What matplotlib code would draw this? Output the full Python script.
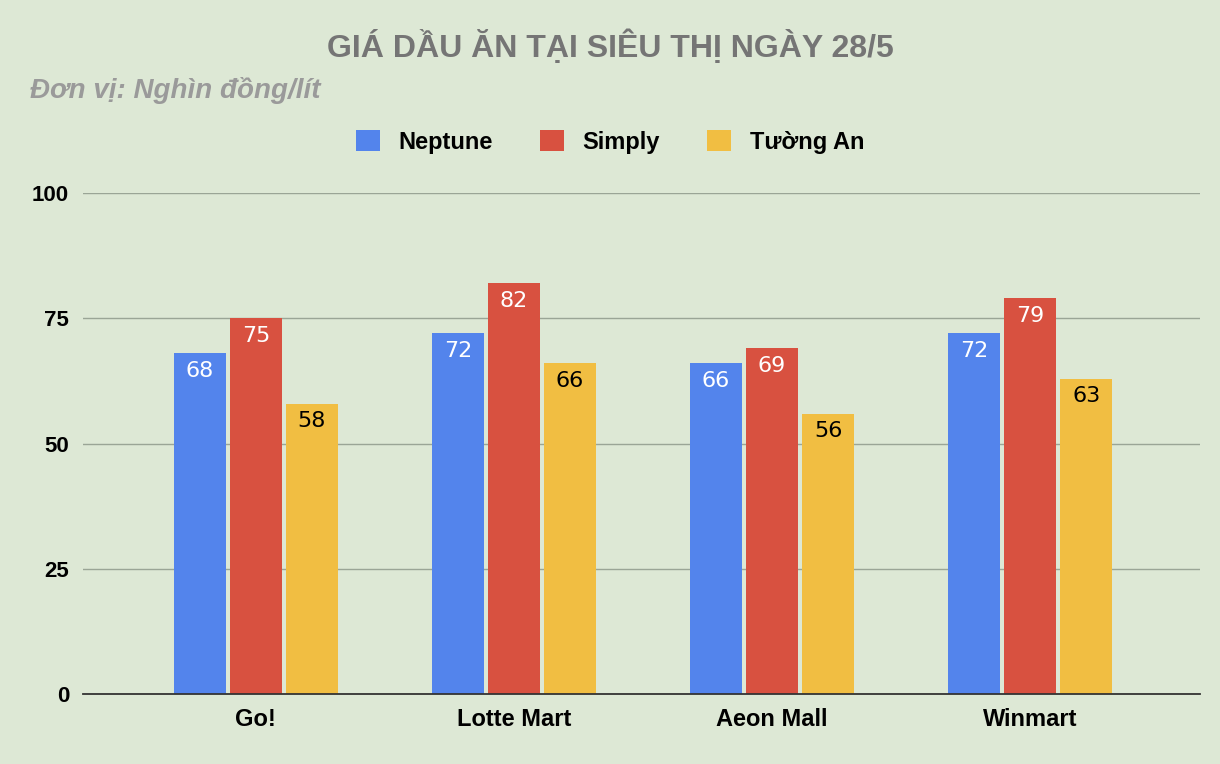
import matplotlib
matplotlib.use("Agg")
import matplotlib.pyplot as plt
import numpy as np

plt.rcParams["font.family"] = "Liberation Sans"

stores = ["Go!", "Lotte Mart", "Aeon Mall", "Winmart"]
series_names = ["Neptune", "Simply", "Tường An"]
neptune = [68, 72, 66, 72]
simply = [75, 82, 69, 79]
tuong_an = [58, 66, 56, 63]
yticks = [0, 25, 50, 75, 100]

colors = ["#5384EC", "#D85140", "#F1BE42"]
label_colors = ["white", "white", "black"]
bg = "#DDE8D5"

fig = plt.figure(figsize=(12.2, 7.64), dpi=100, facecolor=bg)
ax = fig.add_axes([0.068, 0.0916, 0.916, 0.6555], facecolor=bg)

x = np.arange(len(stores))
width = 0.2
step = 0.217
for i, (name, vals) in enumerate(zip(series_names, [neptune, simply, tuong_an])):
    xs = x + (i - 1) * step
    ax.bar(xs, vals, width=width, color=colors[i], label=name, zorder=3)
    for xi, v in zip(xs, vals):
        ax.text(xi, v - 1.5, str(v), ha="center", va="top", fontsize=16,
                color=label_colors[i], family="DejaVu Sans", zorder=4)

ax.set_xlim(-0.67, 3.66)
ax.set_ylim(0, 100)
ax.set_yticks(yticks)
ax.set_yticklabels([str(t) for t in yticks], fontsize=16, fontweight="bold")
ax.set_xticks(x)
ax.set_xticklabels(stores, fontsize=17, fontweight="bold")
ax.tick_params(length=0, pad=10)
ax.grid(axis="y", color="#9aa596", linewidth=1, zorder=1)
for s in ["top", "right", "left"]:
    ax.spines[s].set_visible(False)
ax.spines["bottom"].set_color("#333333")
ax.spines["bottom"].set_linewidth(1.3)
ax.spines["bottom"].set_zorder(5)

fig.text(0.5, 1 - 47 / 764, "GIÁ DẦU ĂN TẠI SIÊU THỊ NGÀY 28/5", ha="center", va="center",
         fontsize=23, fontweight="bold", color="#757575")
fig.text(30 / 1220, 1 - 90 / 764, "Đơn vị: Nghìn đồng/lít", ha="left", va="center",
         fontsize=20, fontweight="bold", style="italic", color="#9a9a9a")
fig.legend(loc="center", bbox_to_anchor=(0.5, 1 - 142 / 764), ncol=3, frameon=False,
           prop={"weight": "bold", "size": 17}, handlelength=1.0, handleheight=1.0,
           columnspacing=2.0, handletextpad=0.8)

fig.savefig("out.png", dpi=100, facecolor=bg)
